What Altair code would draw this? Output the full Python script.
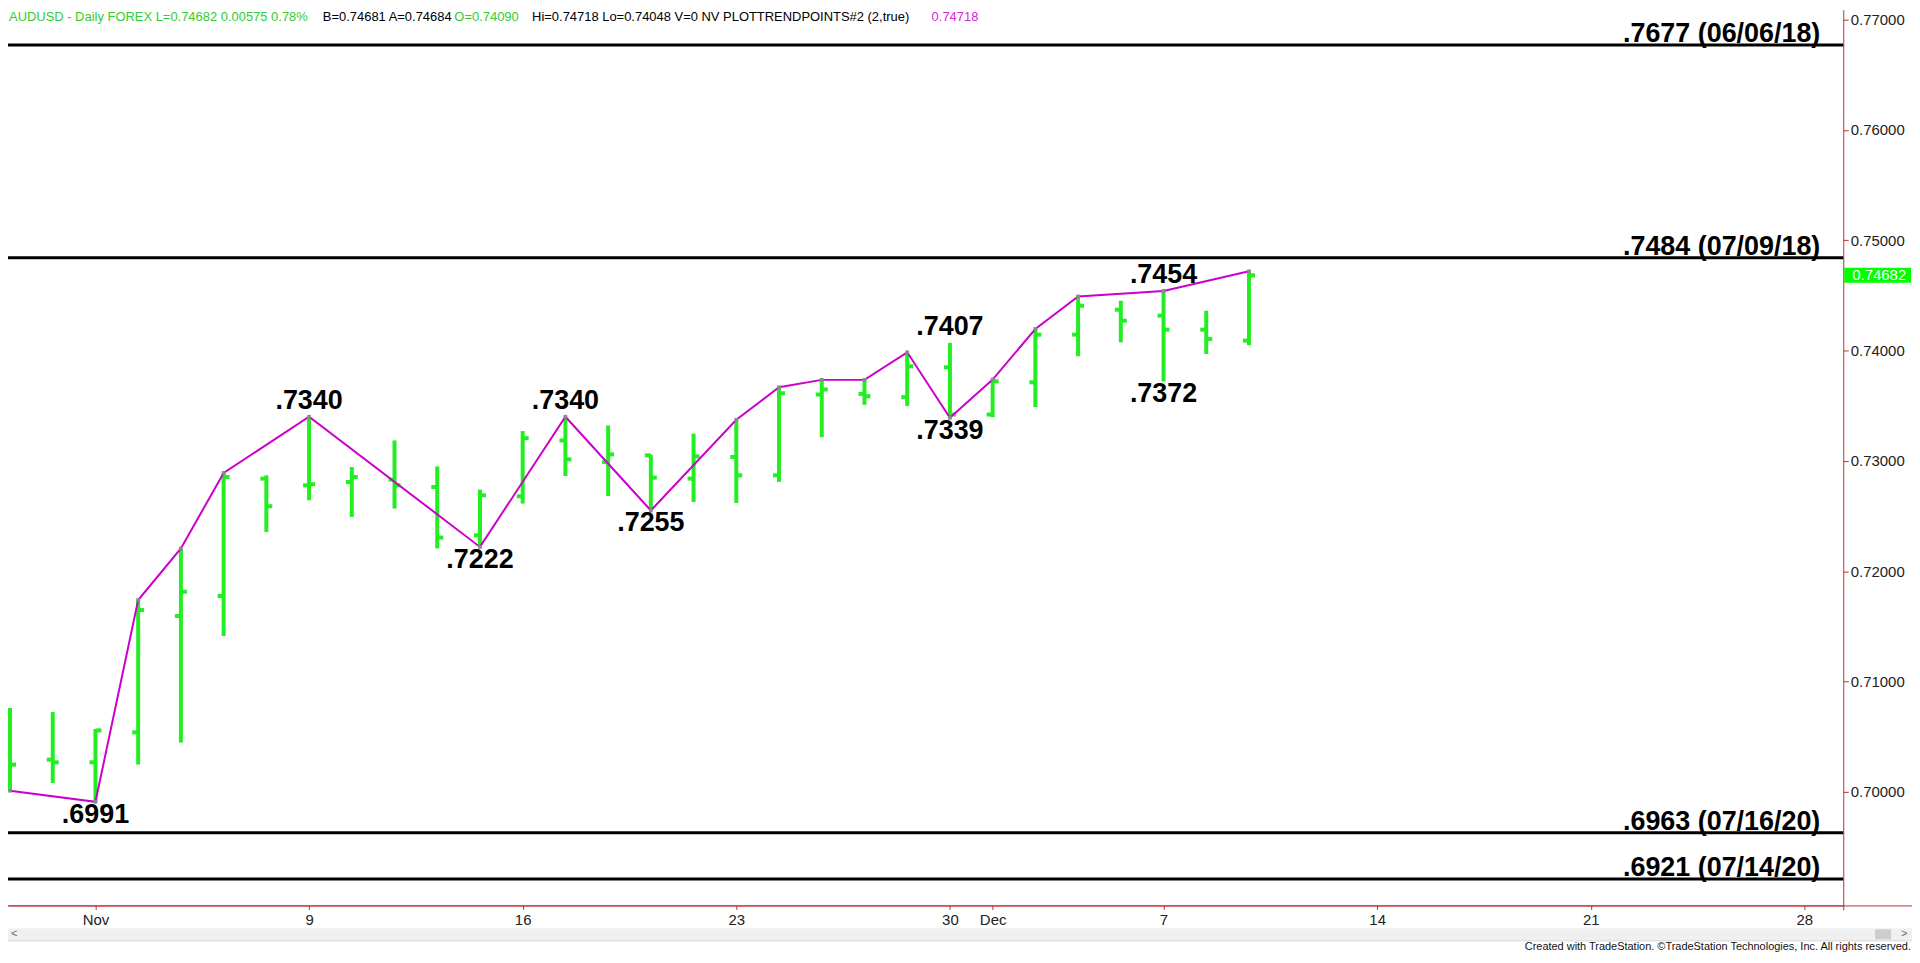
import altair as alt
import pandas as pd

# ---------------- data ----------------
dates = ["2020-10-29", "2020-10-30", "2020-11-02", "2020-11-03", "2020-11-04",
         "2020-11-05", "2020-11-06", "2020-11-09", "2020-11-10", "2020-11-11",
         "2020-11-12", "2020-11-13", "2020-11-16", "2020-11-17", "2020-11-18",
         "2020-11-19", "2020-11-20", "2020-11-23", "2020-11-24", "2020-11-25",
         "2020-11-26", "2020-11-27", "2020-11-30", "2020-12-01", "2020-12-02",
         "2020-12-03", "2020-12-04", "2020-12-07", "2020-12-08", "2020-12-09"]
opens = [0.70448, 0.70292, 0.70268, 0.70539, 0.71594, 0.71775, 0.72839, 0.72778, 0.72809, 0.72830,
         0.72763, 0.72326, 0.72679, 0.73185, 0.72989, 0.73050, 0.72839, 0.73035, 0.72869, 0.73601,
         0.73607, 0.73577, 0.73848, 0.73420, 0.73712, 0.74144, 0.74370, 0.74316, 0.74189, 0.74090]
highs = [0.70760, 0.70723, 0.70570, 0.71739, 0.72206, 0.72890, 0.72869, 0.73400, 0.72944, 0.73185,
         0.72950, 0.72739, 0.73270, 0.73400, 0.73321, 0.73056, 0.73246, 0.73372, 0.73667, 0.73734,
         0.73734, 0.73984, 0.74070, 0.73737, 0.74195, 0.74490, 0.74451, 0.74540, 0.74361, 0.74718]
lows = [0.70010, 0.70081, 0.69910, 0.70247, 0.70448, 0.71413, 0.72356, 0.72643, 0.72492, 0.72568,
        0.72206, 0.72220, 0.72613, 0.72863, 0.72682, 0.72550, 0.72628, 0.72619, 0.72809, 0.73215,
        0.73508, 0.73498, 0.73390, 0.73396, 0.73487, 0.73948, 0.74074, 0.73720, 0.73969, 0.74048]
closes = [0.70247, 0.70268, 0.70557, 0.71648, 0.71814, 0.72854, 0.72589, 0.72788, 0.72854, 0.72778,
          0.72305, 0.72688, 0.73206, 0.73014, 0.73059, 0.72848, 0.73041, 0.72869, 0.73613, 0.73647,
          0.73586, 0.73857, 0.73420, 0.73721, 0.74144, 0.74406, 0.74270, 0.74189, 0.74105, 0.74682]

trend_dates = ["2020-10-29", "2020-11-02", "2020-11-03", "2020-11-04", "2020-11-05", "2020-11-09",
               "2020-11-13", "2020-11-17", "2020-11-19", "2020-11-23", "2020-11-24", "2020-11-25",
               "2020-11-26", "2020-11-27", "2020-11-30", "2020-12-01", "2020-12-02", "2020-12-03",
               "2020-12-07", "2020-12-09"]
trend_prices = [0.7001, 0.6991, 0.71739, 0.72206, 0.72890, 0.7340,
                0.7222, 0.7340, 0.7255, 0.73372, 0.73667, 0.73734,
                0.73734, 0.73984, 0.7339, 0.73737, 0.74195, 0.74490,
                0.7454, 0.74718]

label_dates = ["2020-11-02", "2020-11-09", "2020-11-13", "2020-11-17", "2020-11-19",
               "2020-11-30", "2020-11-30", "2020-12-07", "2020-12-07"]
label_prices = [0.6991, 0.7340, 0.7222, 0.7340, 0.7255, 0.7407, 0.7339, 0.7454, 0.7372]
label_texts = [".6991", ".7340", ".7222", ".7340", ".7255", ".7407", ".7339", ".7454", ".7372"]
label_side = ["below", "above", "below", "above", "below", "above", "below", "above", "below"]

level_prices = [0.7677, 0.7484, 0.6963, 0.6921]
level_texts = [".7677 (06/06/18)", ".7484 (07/09/18)", ".6963 (07/16/20)", ".6921 (07/14/20)"]

tick_dates = ["2020-11-02", "2020-11-09", "2020-11-16", "2020-11-23", "2020-11-30",
              "2020-12-01", "2020-12-07", "2020-12-14", "2020-12-21", "2020-12-28"]
tick_labels = ["Nov", "9", "16", "23", "30", "Dec", "7", "14", "21", "28"]

y_ticks = [0.70, 0.71, 0.72, 0.73, 0.74, 0.75, 0.76, 0.77]

header_texts = ["AUDUSD - Daily  FOREX  L=0.74682  0.00575  0.78%", "B=0.74681  A=0.74684",
                "O=0.74090", "Hi=0.74718  Lo=0.74048  V=0  NV  PLOTTRENDPOINTS#2 (2,true)", "0.74718"]
header_colors = ["#33cc33", "#000000", "#33cc33", "#000000", "#dd22dd"]
last_price = "0.74682"

# ---------------- trading-day index ----------------
all_days = pd.bdate_range("2020-10-29", "2020-12-31")
pos = {d.strftime("%Y-%m-%d"): k for k, d in enumerate(all_days)}

bars = pd.DataFrame({"i": [pos[d] for d in dates], "open": opens, "high": highs,
                     "low": lows, "close": closes})
trend = pd.DataFrame({"i": [pos[d] for d in trend_dates], "p": trend_prices})
labels = pd.DataFrame({"i": [pos[d] for d in label_dates], "p": label_prices,
                       "t": label_texts, "side": label_side})
levels = pd.DataFrame({"p": level_prices, "t": level_texts})
tick_idx = [pos[d] for d in tick_dates]

# ---------------- layout / style ----------------
W, H = 1842, 899
RED = "#b83232"
GREEN = "#22ee22"
FONT = "Liberation Sans"

xs = alt.Scale(domain=[-0.047, 42.91], nice=False, zero=False)
ys = alt.Scale(domain=[0.689706, 0.770887], nice=False, zero=False)

expr = " : ".join(f"datum.value == {i} ? '{l}'" for i, l in zip(tick_idx, tick_labels)) + " : ''"

x_axis = alt.Axis(values=tick_idx, labelExpr=expr, orient="bottom", domainColor=RED,
                  domainWidth=1, tickColor=RED, tickSize=4, labelPadding=15,
                  labelBaseline="alphabetic", labelFont=FONT, labelFontSize=15,
                  labelColor="#222222", grid=False, title=None, labelFlush=False,
                  labelOverlap=False)
y_axis = alt.Axis(values=y_ticks, format=".5f", orient="right", domainColor=RED,
                  domainWidth=1, tickColor=RED, tickSize=5, labelPadding=2,
                  labelBaseline="middle", labelFont=FONT, labelFontSize=15,
                  labelColor="#222222", grid=False, title=None, labelFlush=False,
                  labelOverlap=False)


def X(f):
    return alt.X(f, type="quantitative", scale=xs, axis=x_axis)


def Y(f):
    return alt.Y(f, type="quantitative", scale=ys, axis=y_axis)


levels_rule = alt.Chart(levels).mark_rule(color="black", strokeWidth=3).encode(y=Y("p"))
levels_text = alt.Chart(levels).mark_text(
    align="right", baseline="alphabetic", dy=-3, font=FONT, fontWeight="bold",
    fontSize=27, color="black").encode(x=alt.value(1819), y=Y("p"), text="t:N")

hl = alt.Chart(bars).mark_rule(color=GREEN, strokeWidth=4).encode(
    x=X("i"), y=Y("low"), y2="high:Q")
op = alt.Chart(bars).mark_rule(color=GREEN, strokeWidth=4, x2Offset=-6).encode(
    x=X("i"), x2="i:Q", y=Y("open"))
cl = alt.Chart(bars).mark_rule(color=GREEN, strokeWidth=4, x2Offset=6).encode(
    x=X("i"), x2="i:Q", y=Y("close"))

tline = alt.Chart(trend).mark_line(color="#cc00cc", strokeWidth=2).encode(
    x=X("i"), y=Y("p"), order="i:Q")
tpts = alt.Chart(trend).mark_square(color="#8a8a8a", size=14, opacity=1).encode(
    x=X("i"), y=Y("p"))

lab_above = alt.Chart(labels).transform_filter("datum.side == 'above'").mark_text(
    baseline="alphabetic", dy=-8, font=FONT, fontWeight="bold", fontSize=27,
    color="black").encode(x=X("i"), y=Y("p"), text="t:N")
lab_below = alt.Chart(labels).transform_filter("datum.side == 'below'").mark_text(
    baseline="alphabetic", dy=21, font=FONT, fontWeight="bold", fontSize=27,
    color="black").encode(x=X("i"), y=Y("p"), text="t:N")

# price tag on the right axis
tag_df = pd.DataFrame({"p": [closes[-1]], "t": [last_price]})
tag_rect = alt.Chart(tag_df).mark_rect(color="#00ff00", yOffset=-7.5, y2Offset=7.5).encode(
    x=alt.value(1843), x2=alt.value(1910), y=Y("p"), y2="p:Q")
tag_text = alt.Chart(tag_df).mark_text(
    align="left", baseline="middle", font=FONT, fontSize=15, color="white").encode(
    x=alt.value(1851), y=Y("p"), text="t:N")

# frame pieces: red base line across, y-axis line extension, scrollbar, credits
frame = pd.DataFrame({"k": [0]})
base_line = alt.Chart(frame).mark_rule(color=RED, strokeWidth=1).encode(
    x=alt.value(0), x2=alt.value(1911), y=alt.value(H + 0.5))
yext = alt.Chart(frame).mark_rule(color=RED, strokeWidth=1).encode(
    x=alt.value(W + 0.5), y=alt.value(H), y2=alt.value(H + 5))
scroll = alt.Chart(frame).mark_rect(color="#f0f0f0").encode(
    x=alt.value(0), x2=alt.value(1911), y=alt.value(922), y2=alt.value(934))
scroll_b = alt.Chart(frame).mark_rule(color="#d4d4d4").encode(
    x=alt.value(0), x2=alt.value(1911), y=alt.value(934.5))
thumb = alt.Chart(frame).mark_rect(color="#cdcdcd").encode(
    x=alt.value(1874), x2=alt.value(1890), y=alt.value(923), y2=alt.value(933))
arrows = alt.Chart(pd.DataFrame({"t": ["<", ">"], "x": [3, 1900]})).mark_text(
    font=FONT, fontSize=11, color="#666666", baseline="middle", align="left").encode(
    x=alt.X("x:Q", scale=None), y=alt.value(928), text="t:N")
credit = alt.Chart(pd.DataFrame({"t": ["Created with TradeStation. \u00a9TradeStation Technologies, Inc. All rights reserved."]})).mark_text(
    font=FONT, fontSize=11, color="#111111", align="right", baseline="alphabetic").encode(
    x=alt.value(1910), y=alt.value(944), text="t:N")

header_df = pd.DataFrame({"t": header_texts, "c": header_colors, "x": [1, 316, 448, 526, 927]})
header = alt.Chart(header_df).mark_text(
    font=FONT, fontSize=13, align="left", baseline="alphabetic").encode(
    x=alt.X("x:Q", scale=None), y=alt.value(11), text="t:N",
    color=alt.Color("c:N", scale=None))

chart = alt.layer(
    hl, levels_rule, levels_text, op, cl, tline, tpts, lab_above, lab_below,
    tag_rect, tag_text, scroll, scroll_b, thumb, arrows, credit, base_line, yext, header
).properties(
    width=W, height=H,
    padding={"left": 0, "top": 0, "right": 69, "bottom": 47},
    autosize=alt.AutoSizeParams(type="none"),
    background="white",
).configure_view(stroke=None)

chart.save("out.html", embed_options={"renderer": "svg", "actions": False})
